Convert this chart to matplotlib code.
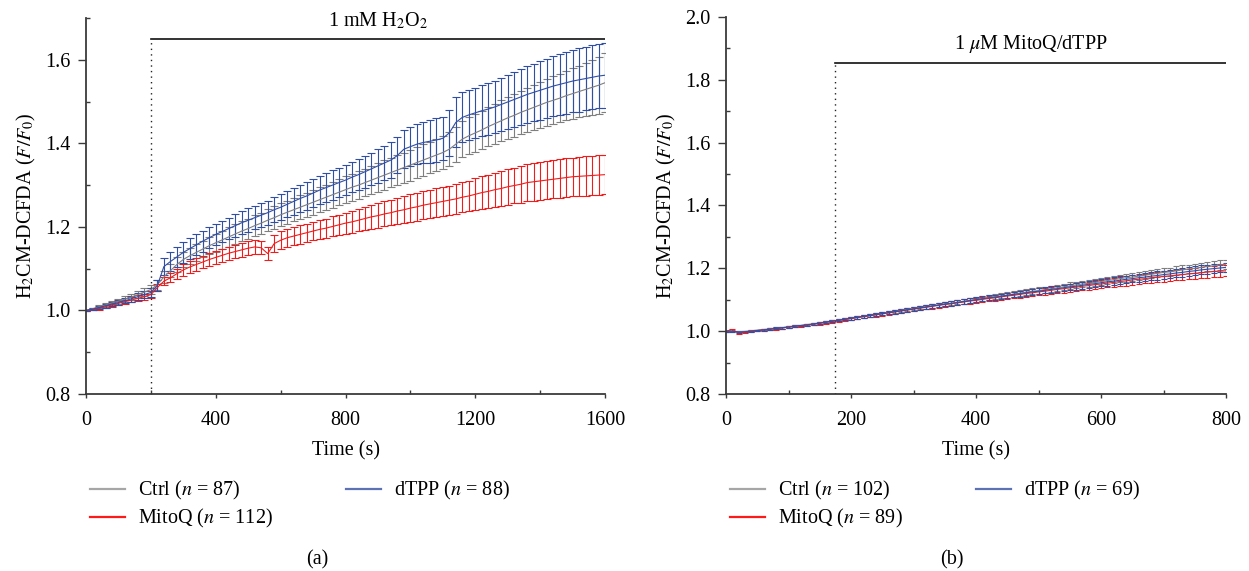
import matplotlib
matplotlib.use("Agg")
import matplotlib.pyplot as plt
from matplotlib.ticker import MultipleLocator, FormatStrFormatter
from matplotlib.lines import Line2D

plt.rcParams['font.family'] = ['Liberation Serif', 'DejaVu Serif']
plt.rcParams['mathtext.fontset'] = 'stix'

# ---------------- Panel (a): 1 mM H2O2 ----------------
time_a = list(range(0, 1601, 20))

ctrl_a = [1.000, 1.004, 1.009, 1.013, 1.018, 1.022, 1.027, 1.032, 1.038, 1.044,
          1.050, 1.062, 1.080, 1.095, 1.110, 1.122, 1.131, 1.139, 1.147, 1.155,
          1.162, 1.169, 1.176, 1.183, 1.190, 1.196, 1.203, 1.209, 1.216, 1.222,
          1.229, 1.235, 1.241, 1.247, 1.253, 1.259, 1.265, 1.271, 1.277, 1.283,
          1.289, 1.295, 1.300, 1.306, 1.312, 1.318, 1.324, 1.330, 1.336, 1.342,
          1.348, 1.354, 1.360, 1.366, 1.372, 1.378, 1.386, 1.398, 1.410, 1.418,
          1.425, 1.432, 1.440, 1.447, 1.454, 1.461, 1.467, 1.474, 1.480, 1.486,
          1.492, 1.498, 1.503, 1.508, 1.514, 1.519, 1.524, 1.529, 1.534, 1.539,
          1.545]
ctrl_a_err = [0.002, 0.003, 0.004, 0.005, 0.005, 0.006, 0.007, 0.008, 0.008, 0.009,
              0.010, 0.012, 0.014, 0.016, 0.017, 0.018, 0.019, 0.020, 0.020, 0.021,
              0.022, 0.022, 0.023, 0.023, 0.024, 0.024, 0.025, 0.025, 0.026, 0.027,
              0.027, 0.028, 0.028, 0.029, 0.029, 0.030, 0.030, 0.030, 0.031, 0.031,
              0.032, 0.032, 0.033, 0.033, 0.034, 0.034, 0.035, 0.035, 0.036, 0.036,
              0.037, 0.037, 0.038, 0.038, 0.039, 0.040, 0.041, 0.042, 0.043, 0.044,
              0.045, 0.046, 0.047, 0.048, 0.049, 0.050, 0.051, 0.052, 0.053, 0.054,
              0.055, 0.056, 0.057, 0.058, 0.059, 0.061, 0.062, 0.064, 0.066, 0.068,
              0.070]

mitoq_a = [1.000, 1.002, 1.005, 1.009, 1.013, 1.017, 1.021, 1.025, 1.029, 1.033,
           1.038, 1.055, 1.070, 1.078, 1.088, 1.097, 1.104, 1.110, 1.116, 1.122,
           1.127, 1.132, 1.137, 1.141, 1.145, 1.149, 1.152, 1.150, 1.136, 1.160,
           1.168, 1.174, 1.178, 1.182, 1.186, 1.190, 1.194, 1.197, 1.201, 1.205,
           1.209, 1.212, 1.216, 1.220, 1.224, 1.227, 1.231, 1.234, 1.238, 1.241,
           1.245, 1.248, 1.252, 1.255, 1.258, 1.261, 1.264, 1.267, 1.271, 1.274,
           1.278, 1.282, 1.285, 1.289, 1.292, 1.296, 1.299, 1.302, 1.306, 1.308,
           1.310, 1.312, 1.314, 1.316, 1.318, 1.320, 1.321, 1.322, 1.323, 1.324,
           1.325]
mitoq_a_err = [0.002, 0.002, 0.003, 0.004, 0.004, 0.005, 0.005, 0.006, 0.007, 0.007,
               0.008, 0.009, 0.010, 0.011, 0.012, 0.014, 0.014, 0.015, 0.015, 0.016,
               0.016, 0.016, 0.016, 0.016, 0.016, 0.016, 0.016, 0.015, 0.015, 0.021,
               0.022, 0.022, 0.022, 0.022, 0.022, 0.022, 0.023, 0.023, 0.024, 0.024,
               0.025, 0.026, 0.027, 0.027, 0.028, 0.029, 0.030, 0.030, 0.031, 0.032,
               0.033, 0.033, 0.033, 0.034, 0.034, 0.034, 0.035, 0.036, 0.036, 0.037,
               0.038, 0.039, 0.040, 0.041, 0.042, 0.043, 0.043, 0.044, 0.044, 0.045,
               0.045, 0.045, 0.045, 0.046, 0.046, 0.046, 0.046, 0.047, 0.047, 0.047,
               0.047]

dtpp_a = [1.000, 1.003, 1.007, 1.011, 1.015, 1.019, 1.023, 1.028, 1.033, 1.038,
          1.043, 1.060, 1.105, 1.117, 1.128, 1.139, 1.148, 1.157, 1.166, 1.174,
          1.182, 1.189, 1.196, 1.203, 1.210, 1.216, 1.222, 1.228, 1.234, 1.241,
          1.247, 1.254, 1.261, 1.268, 1.274, 1.281, 1.288, 1.294, 1.300, 1.306,
          1.312, 1.319, 1.325, 1.332, 1.339, 1.346, 1.353, 1.360, 1.371, 1.386,
          1.392, 1.398, 1.402, 1.405, 1.408, 1.412, 1.425, 1.450, 1.462, 1.468,
          1.473, 1.478, 1.482, 1.487, 1.493, 1.499, 1.505, 1.511, 1.517, 1.522,
          1.527, 1.532, 1.537, 1.541, 1.545, 1.549, 1.552, 1.555, 1.558, 1.561,
          1.563]
dtpp_a_err = [0.002, 0.003, 0.003, 0.004, 0.005, 0.005, 0.006, 0.007, 0.008, 0.009,
              0.010, 0.014, 0.020, 0.022, 0.024, 0.025, 0.025, 0.025, 0.025, 0.025,
              0.025, 0.026, 0.026, 0.027, 0.027, 0.028, 0.028, 0.029, 0.029, 0.030,
              0.031, 0.031, 0.032, 0.032, 0.033, 0.033, 0.034, 0.034, 0.035, 0.035,
              0.035, 0.036, 0.037, 0.038, 0.039, 0.040, 0.041, 0.042, 0.043, 0.045,
              0.046, 0.048, 0.050, 0.052, 0.052, 0.052, 0.055, 0.060, 0.060, 0.060,
              0.060, 0.061, 0.062, 0.063, 0.064, 0.065, 0.066, 0.067, 0.068, 0.069,
              0.070, 0.071, 0.072, 0.073, 0.074, 0.075, 0.076, 0.076, 0.077, 0.077,
              0.078]

# ---------------- Panel (b): 1 uM MitoQ/dTPP ----------------
time_b = list(range(0, 801, 10))

ctrl_b = [1.000, 1.000, 0.998, 0.999, 1.001, 1.003, 1.005, 1.007, 1.009, 1.011,
          1.014, 1.016, 1.018, 1.021, 1.023, 1.026, 1.029, 1.032, 1.035, 1.038,
          1.041, 1.044, 1.047, 1.050, 1.053, 1.056, 1.059, 1.062, 1.066, 1.069,
          1.072, 1.075, 1.078, 1.081, 1.084, 1.087, 1.089, 1.092, 1.095, 1.098,
          1.101, 1.104, 1.107, 1.110, 1.112, 1.115, 1.118, 1.121, 1.124, 1.127,
          1.129, 1.132, 1.135, 1.138, 1.141, 1.144, 1.147, 1.150, 1.152, 1.155,
          1.158, 1.161, 1.164, 1.167, 1.170, 1.172, 1.175, 1.178, 1.181, 1.184,
          1.187, 1.189, 1.192, 1.195, 1.198, 1.200, 1.203, 1.206, 1.208, 1.211,
          1.213]
ctrl_b_err = [0.002, 0.002, 0.002, 0.002, 0.002, 0.002, 0.002, 0.003, 0.003, 0.003,
              0.003, 0.003, 0.003, 0.003, 0.003, 0.004, 0.004, 0.004, 0.004, 0.004,
              0.004, 0.004, 0.005, 0.005, 0.005, 0.005, 0.005, 0.005, 0.006, 0.006,
              0.006, 0.006, 0.006, 0.006, 0.007, 0.007, 0.007, 0.007, 0.007, 0.007,
              0.008, 0.008, 0.008, 0.008, 0.008, 0.009, 0.009, 0.009, 0.009, 0.009,
              0.010, 0.010, 0.010, 0.010, 0.010, 0.011, 0.011, 0.011, 0.011, 0.011,
              0.012, 0.012, 0.012, 0.012, 0.012, 0.012, 0.013, 0.013, 0.013, 0.013,
              0.013, 0.013, 0.014, 0.014, 0.014, 0.014, 0.014, 0.014, 0.015, 0.015,
              0.015]

mitoq_b = [1.000, 1.005, 0.995, 0.997, 1.000, 1.002, 1.004, 1.006, 1.008, 1.010,
           1.013, 1.015, 1.017, 1.020, 1.022, 1.025, 1.028, 1.031, 1.034, 1.037,
           1.040, 1.043, 1.046, 1.049, 1.052, 1.055, 1.058, 1.061, 1.064, 1.067,
           1.070, 1.073, 1.076, 1.079, 1.082, 1.085, 1.087, 1.090, 1.093, 1.096,
           1.098, 1.101, 1.104, 1.106, 1.109, 1.112, 1.114, 1.117, 1.120, 1.122,
           1.125, 1.127, 1.130, 1.133, 1.135, 1.138, 1.140, 1.143, 1.145, 1.148,
           1.150, 1.153, 1.155, 1.158, 1.160, 1.163, 1.165, 1.167, 1.170, 1.172,
           1.174, 1.176, 1.178, 1.180, 1.182, 1.184, 1.186, 1.188, 1.190, 1.191,
           1.192]
mitoq_b_err = [0.002, 0.003, 0.003, 0.003, 0.003, 0.003, 0.003, 0.003, 0.003, 0.003,
               0.003, 0.003, 0.004, 0.004, 0.004, 0.004, 0.004, 0.004, 0.005, 0.005,
               0.005, 0.005, 0.005, 0.005, 0.006, 0.006, 0.006, 0.006, 0.006, 0.007,
               0.007, 0.007, 0.007, 0.007, 0.008, 0.008, 0.008, 0.008, 0.008, 0.009,
               0.009, 0.009, 0.009, 0.009, 0.010, 0.010, 0.010, 0.010, 0.011, 0.011,
               0.011, 0.011, 0.012, 0.012, 0.012, 0.012, 0.013, 0.013, 0.013, 0.013,
               0.014, 0.014, 0.014, 0.014, 0.015, 0.015, 0.015, 0.015, 0.016, 0.016,
               0.016, 0.016, 0.016, 0.017, 0.017, 0.017, 0.017, 0.018, 0.018, 0.018,
               0.018]

dtpp_b = [1.000, 1.000, 0.997, 0.998, 1.000, 1.002, 1.004, 1.006, 1.009, 1.011,
          1.013, 1.016, 1.018, 1.020, 1.023, 1.026, 1.029, 1.032, 1.035, 1.038,
          1.041, 1.044, 1.047, 1.050, 1.053, 1.056, 1.059, 1.062, 1.065, 1.068,
          1.071, 1.074, 1.077, 1.080, 1.083, 1.086, 1.088, 1.091, 1.094, 1.097,
          1.100, 1.103, 1.106, 1.108, 1.111, 1.114, 1.117, 1.119, 1.122, 1.125,
          1.127, 1.130, 1.133, 1.135, 1.138, 1.141, 1.143, 1.146, 1.149, 1.151,
          1.154, 1.157, 1.159, 1.162, 1.165, 1.167, 1.170, 1.172, 1.175, 1.177,
          1.180, 1.182, 1.185, 1.187, 1.190, 1.192, 1.195, 1.197, 1.199, 1.201,
          1.203]
dtpp_b_err = [0.002, 0.002, 0.002, 0.002, 0.002, 0.002, 0.003, 0.003, 0.003, 0.003,
              0.003, 0.003, 0.003, 0.003, 0.004, 0.004, 0.004, 0.004, 0.004, 0.004,
              0.004, 0.005, 0.005, 0.005, 0.005, 0.005, 0.005, 0.006, 0.006, 0.006,
              0.006, 0.006, 0.006, 0.007, 0.007, 0.007, 0.007, 0.007, 0.007, 0.008,
              0.008, 0.008, 0.008, 0.008, 0.008, 0.009, 0.009, 0.009, 0.009, 0.009,
              0.009, 0.010, 0.010, 0.010, 0.010, 0.010, 0.011, 0.011, 0.011, 0.011,
              0.011, 0.012, 0.012, 0.012, 0.012, 0.012, 0.012, 0.013, 0.013, 0.013,
              0.013, 0.013, 0.013, 0.014, 0.014, 0.014, 0.014, 0.014, 0.014, 0.014,
              0.015]

labels_a = ["Ctrl ($n$ = 87)", "MitoQ ($n$ = 112)", "dTPP ($n$ = 88)"]
labels_b = ["Ctrl ($n$ = 102)", "MitoQ ($n$ = 89)", "dTPP ($n$ = 69)"]

C_GRAY = "#7f7f7f"
C_RED = "#f01c1c"
C_BLUE = "#2f4ea6"
L_GRAY = "#a6a6a6"
L_RED = "#ff1a1a"
L_BLUE = "#5d72b4"
AX_COL = "#3a3a3a"
FS = 14.5

fig = plt.figure(figsize=(12.49, 5.71), dpi=100)
ax_a = fig.add_axes([0.0689, 0.310, 0.4155, 0.6585])
ax_b = fig.add_axes([0.5813, 0.310, 0.4003, 0.6603])

def style(ax, xmaj, xmin, ymaj, ymin):
    for s in ("top", "right"):
        ax.spines[s].set_visible(False)
    for s in ("left", "bottom"):
        ax.spines[s].set_color(AX_COL)
        ax.spines[s].set_linewidth(1.3)
    ax.xaxis.set_major_locator(MultipleLocator(xmaj))
    ax.xaxis.set_minor_locator(MultipleLocator(xmin))
    ax.yaxis.set_major_locator(MultipleLocator(ymaj))
    ax.yaxis.set_minor_locator(MultipleLocator(ymin))
    ax.yaxis.set_major_formatter(FormatStrFormatter("%.1f"))
    ax.tick_params(axis="x", which="major", direction="out", length=3,
                   width=1.0, color=AX_COL, labelsize=FS, pad=9)
    ax.tick_params(axis="y", which="major", direction="out", length=6,
                   width=1.0, color=AX_COL, labelsize=FS, pad=5)
    ax.tick_params(axis="both", which="minor", direction="in", length=3,
                   width=1.0, color=AX_COL)
    ax.set_xlabel("Time (s)", fontsize=FS, labelpad=8)
    ax.set_ylabel("H$_2$CM-DCFDA ($F/F_0$)", fontsize=FS, labelpad=5)

def draw(ax, t, series, cap):
    for y, e, c in series:
        ax.errorbar(t, y, yerr=e, fmt="-", color=c, lw=0.8, elinewidth=0.8,
                    capsize=cap, capthick=0.8)

draw(ax_a, time_a, [(ctrl_a, ctrl_a_err, C_GRAY), (mitoq_a, mitoq_a_err, C_RED),
                    (dtpp_a, dtpp_a_err, C_BLUE)], 2.6)
draw(ax_b, time_b, [(ctrl_b, ctrl_b_err, C_GRAY), (mitoq_b, mitoq_b_err, C_RED),
                    (dtpp_b, dtpp_b_err, C_BLUE)], 2.0)

ax_a.set_xlim(0, 1600)
ax_a.set_ylim(0.8, 1.7)
ax_b.set_xlim(0, 800)
ax_b.set_ylim(0.8, 2.0)
style(ax_a, 400, 200, 0.2, 0.1)
style(ax_b, 200, 100, 0.2, 0.1)

# treatment markers
ax_a.plot([200, 200], [0.8, 1.65], ls=(0, (1, 3)), color="#222222", lw=1.0)
ax_a.plot([200, 1600], [1.65, 1.65], color="#111111", lw=1.2)
ax_a.text(900, 1.668, "1 mM H$_2$O$_2$", ha="center", va="bottom", fontsize=FS)

ax_b.plot([175, 175], [0.8, 1.855], ls=(0, (1, 3)), color="#222222", lw=1.0)
ax_b.plot([175, 800], [1.855, 1.855], color="#111111", lw=1.2)
ax_b.text(487, 1.88, "1 $\\mu$M MitoQ/dTPP", ha="center", va="bottom", fontsize=FS)

def legend(ax, labels, colspace):
    handles = [Line2D([], [], color=L_GRAY, lw=1.6),
               Line2D([], [], color=L_RED, lw=1.6),
               Line2D([], [], color=L_BLUE, lw=1.6)]
    ax.legend(handles, labels, ncol=2, loc="upper left",
              bbox_to_anchor=(-0.008, -0.205), frameon=False, fontsize=FS,
              handlelength=1.75, handletextpad=0.65, labelspacing=0.25,
              columnspacing=colspace, borderaxespad=0.0)

legend(ax_a, labels_a, 3.6)
legend(ax_b, labels_b, 3.6)

fig.text(0.2538, 0.019, "(a)", ha="center", va="center", fontsize=FS)
fig.text(0.7622, 0.019, "(b)", ha="center", va="center", fontsize=FS)

fig.savefig("out.png", dpi=100)
